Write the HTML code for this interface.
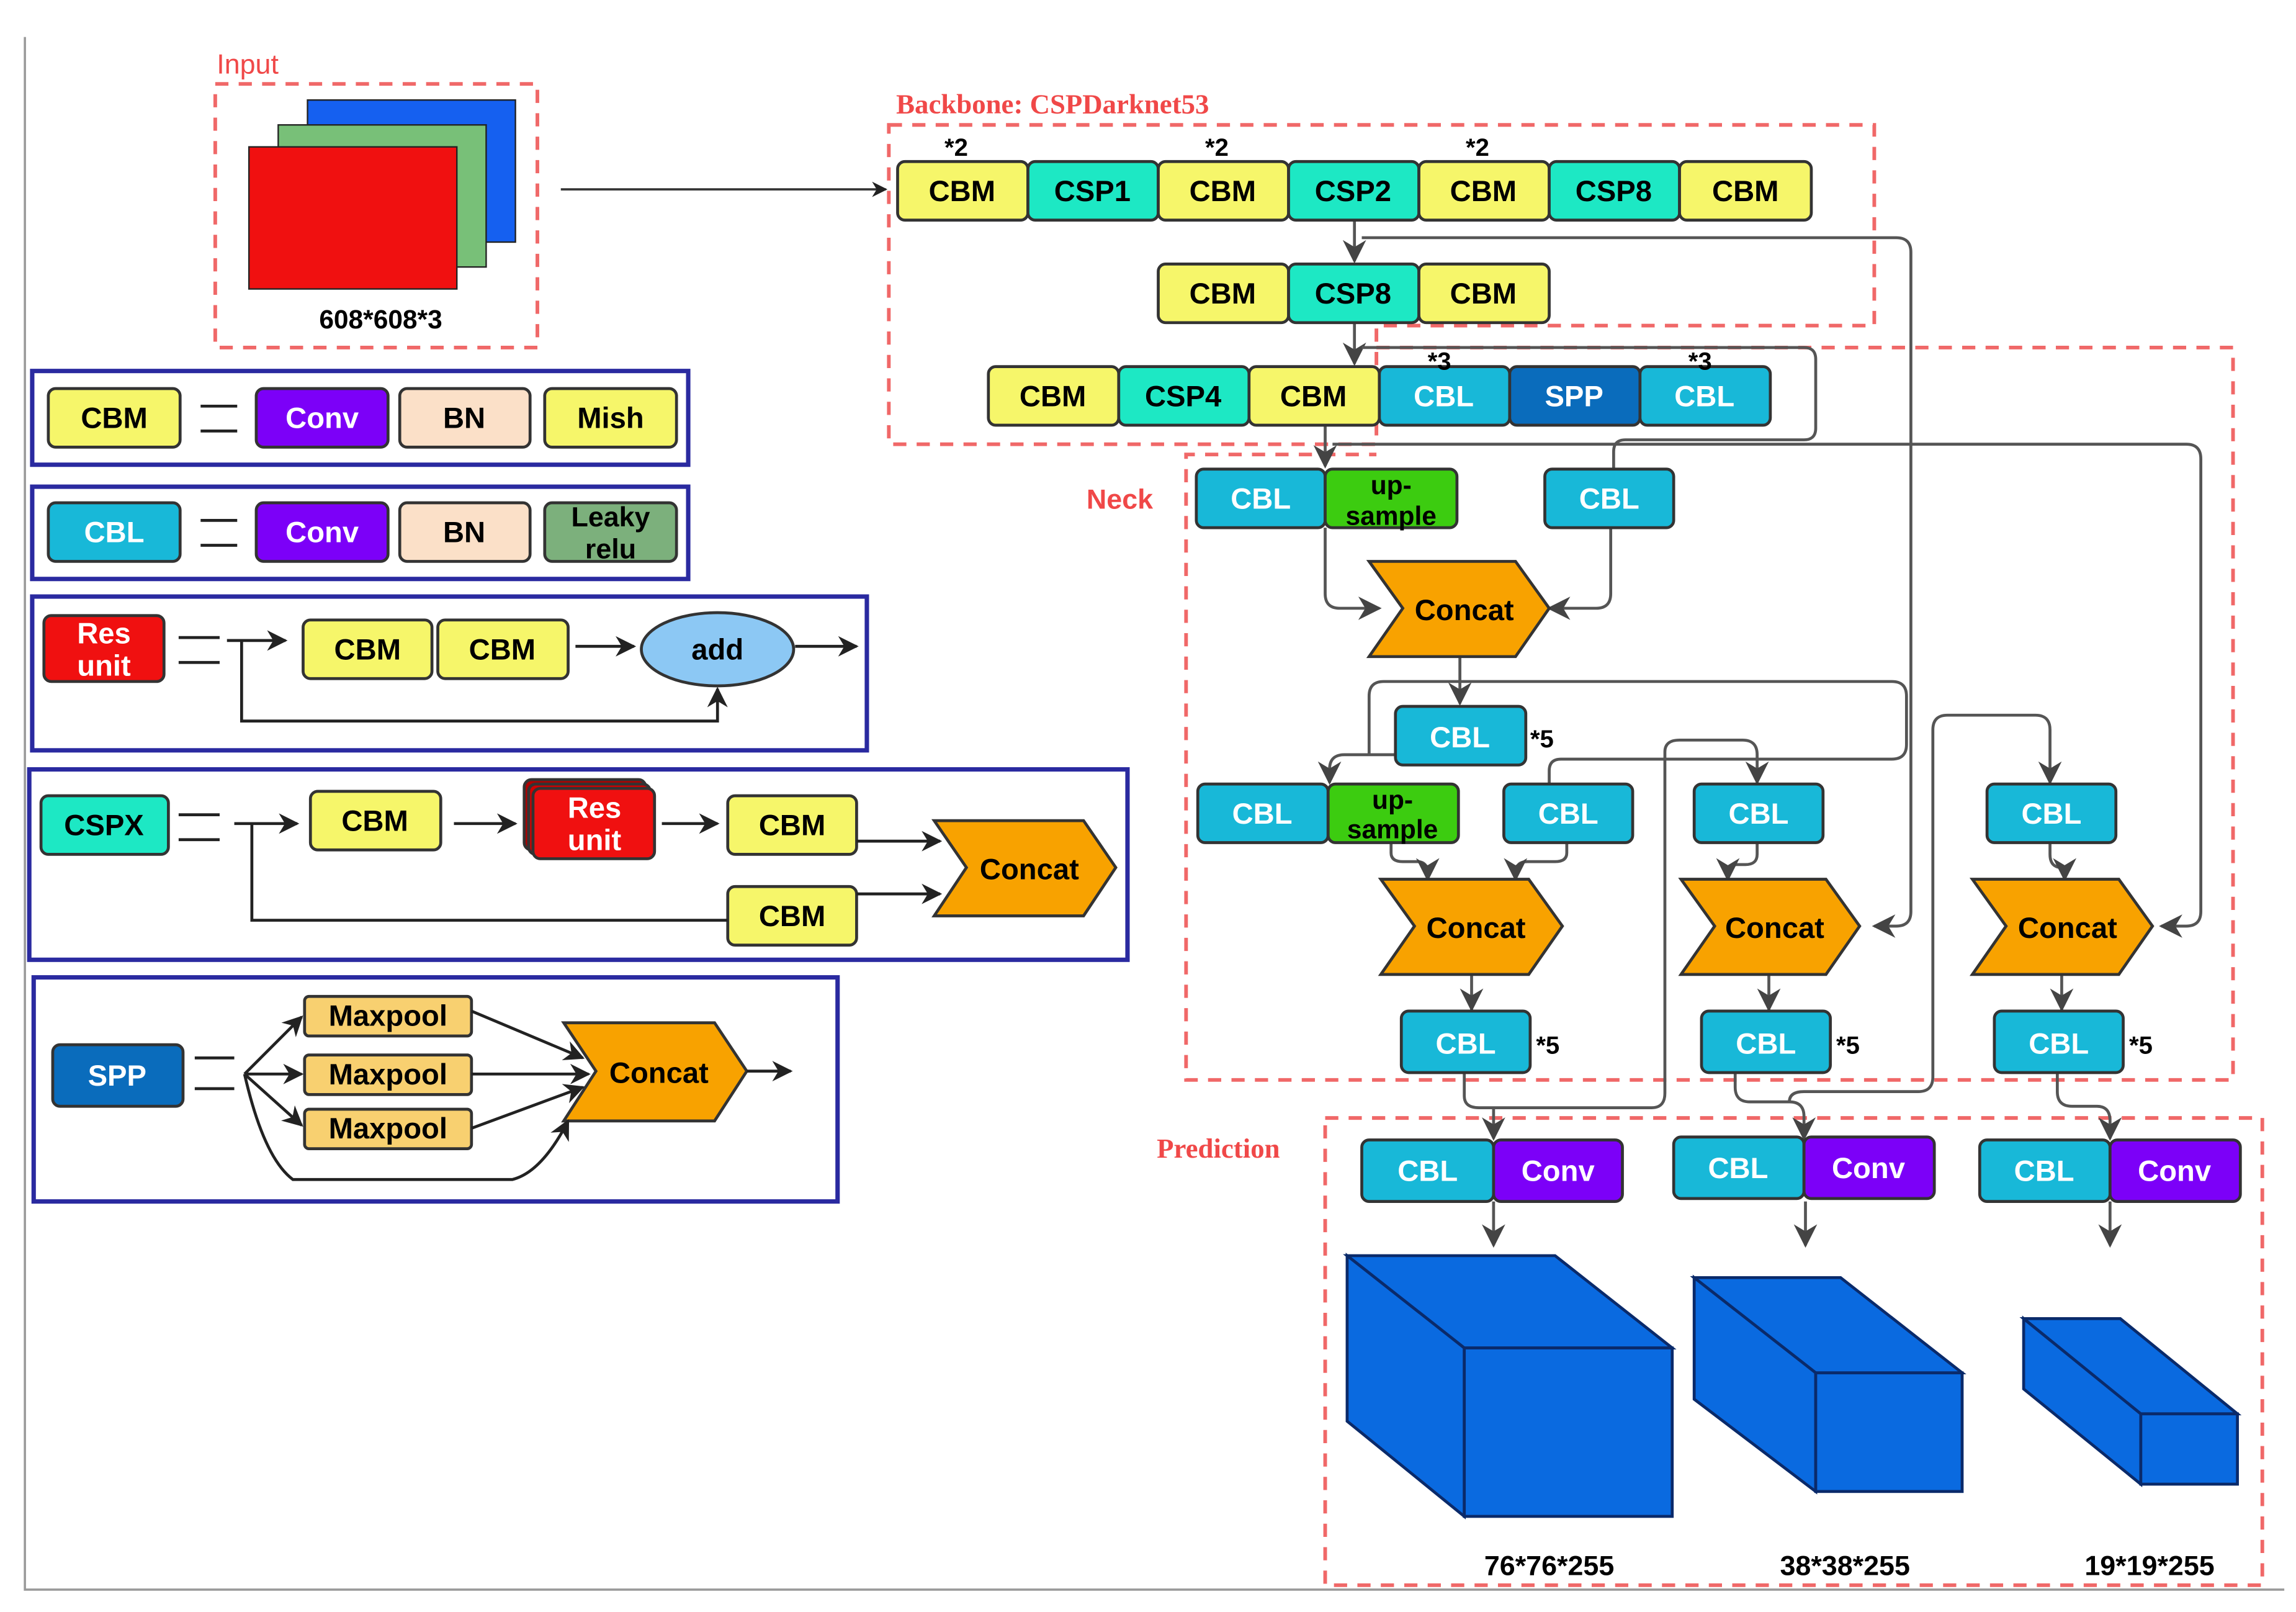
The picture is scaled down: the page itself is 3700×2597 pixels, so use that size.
<!DOCTYPE html>
<html><head><meta charset="utf-8"><style>
html,body{margin:0;padding:0;background:#fff;}
svg{display:block;}
text{font-family:"Liberation Sans",sans-serif;font-weight:bold;}
</style></head><body>
<svg width="3700" height="2597" viewBox="0 0 1568 1100" xmlns="http://www.w3.org/2000/svg">
<defs>
<marker id="a" viewBox="0 0 10 10" refX="9" refY="5" markerWidth="7" markerHeight="7" orient="auto"><path d="M0,0 L10,5 L0,10 L3,5 z" fill="#222"/></marker>
<marker id="g" viewBox="0 0 10 10" refX="9" refY="5" markerWidth="8" markerHeight="8" orient="auto"><path d="M0,0 L10,5 L0,10 L3,5 z" fill="#444"/></marker>
</defs>
<rect width="1568" height="1100" fill="#fff"/>
<path d="M17,25 V1085 H1560" stroke="#999" stroke-width="1.5" fill="none"/>

<!-- dashed regions -->
<g stroke="#f06868" stroke-width="2.5" stroke-dasharray="9,7" fill="none">
<rect x="147" y="57" width="220" height="180"/>
<path d="M607,85 H1280 V222 H940 V303 H607 Z"/>
<path d="M940,237 H1525 V737 H810 V310 H940"/>
<rect x="905" y="763" width="640" height="319"/>
</g>
<g fill="#f04848" font-size="19">
<text x="148" y="50" style="font-weight:normal">Input</text>
<text x="742" y="347">Neck</text>
<text x="612" y="77" style="font-family:'Liberation Serif',serif">Backbone: CSPDarknet53</text>
<text x="790" y="790" style="font-family:'Liberation Serif',serif">Prediction</text>
</g>

<!-- input -->
<rect x="210" y="68" width="142" height="97" fill="#1560f0" stroke="#222"/>
<rect x="190" y="85" width="142" height="97" fill="#78c078" stroke="#222"/>
<rect x="170" y="100" width="142" height="97" fill="#f01010" stroke="#222"/>
<text x="260" y="224" font-size="18" text-anchor="middle">608*608*3</text>
<line x1="383" y1="129" x2="605" y2="129" stroke="#333" stroke-width="1.5" marker-end="url(#a)"/>

<!-- connectors (neck) -->
<g stroke="#555" stroke-width="2" fill="none">
<line x1="925" y1="150" x2="925" y2="178" marker-end="url(#g)"/>
<path d="M930,162 H1295 Q1305,162 1305,172 V622 Q1305,632 1295,632 H1280" marker-end="url(#g)"/>
<line x1="925" y1="220" x2="925" y2="248" marker-end="url(#g)"/>
<path d="M930,237 H1232 Q1240,237 1240,245 V292 Q1240,300 1232,300 H1110 Q1102,300 1102,308 V320"/>
<line x1="905" y1="290" x2="905" y2="318" marker-end="url(#g)"/>
<path d="M910,303 H1493 Q1503,303 1503,313 V622 Q1503,632 1493,632 H1476" marker-end="url(#g)"/>
<path d="M905,360 V405 Q905,415 915,415 H942" marker-end="url(#g)"/>
<path d="M1100,360 V405 Q1100,415 1090,415 H1058" marker-end="url(#g)"/>
<line x1="997" y1="448" x2="997" y2="480" marker-end="url(#g)"/>
<path d="M935,515 V475 Q935,465 945,465 H1292 Q1302,465 1302,475 V508 Q1302,518 1292,518 H1066 Q1058,518 1058,526 V535"/>
<path d="M953,515 H918 Q908,515 908,525 V534" marker-end="url(#g)"/>
<path d="M950,575 V582 Q950,588 958,588 H968 Q975,588 975,596 V600" marker-end="url(#g)"/>
<path d="M1070,575 V582 Q1070,588 1062,588 H1043 Q1035,588 1035,596 V600" marker-end="url(#g)"/>
<path d="M1200,575 V583 Q1200,590 1192,590 H1186 Q1180,590 1180,598 V600" marker-end="url(#g)"/>
<path d="M1400,575 V583 Q1400,592 1408,592 H1410 V600" marker-end="url(#g)"/>
<line x1="1005" y1="665" x2="1005" y2="689" marker-end="url(#g)"/>
<line x1="1208" y1="665" x2="1208" y2="689" marker-end="url(#g)"/>
<line x1="1408" y1="665" x2="1408" y2="689" marker-end="url(#g)"/>
<path d="M1000,732 V748 Q1000,756 1010,756 H1128 Q1137,756 1137,746 V513 Q1137,505 1147,505 H1190 Q1200,505 1200,515 V534" marker-end="url(#g)"/>
<line x1="1020" y1="756" x2="1020" y2="777" marker-end="url(#g)"/>
<path d="M1185,732 V742 Q1185,752 1195,752 H1222 Q1232,752 1232,762 V777" marker-end="url(#g)"/>
<path d="M1222,752 Q1222,745 1232,745 H1310 Q1320,745 1320,735 V498 Q1320,488 1330,488 H1390 Q1400,488 1400,498 V534" marker-end="url(#g)"/>
<path d="M1405,732 V745 Q1405,755 1415,755 H1432 Q1441,755 1441,765 V777" marker-end="url(#g)"/>
<line x1="1020" y1="820" x2="1020" y2="850" marker-end="url(#g)"/>
<line x1="1233" y1="820" x2="1233" y2="850" marker-end="url(#g)"/>
<line x1="1441" y1="820" x2="1441" y2="850" marker-end="url(#g)"/>
</g>

<!-- boxes -->
<g stroke="#333" stroke-width="2">
<!-- backbone row1 -->
<rect x="613" y="110" width="89" height="40" rx="5" fill="#f6f66a"/>
<rect x="702" y="110" width="89" height="40" rx="5" fill="#1de8c4"/>
<rect x="791" y="110" width="89" height="40" rx="5" fill="#f6f66a"/>
<rect x="880" y="110" width="89" height="40" rx="5" fill="#1de8c4"/>
<rect x="969" y="110" width="89" height="40" rx="5" fill="#f6f66a"/>
<rect x="1058" y="110" width="89" height="40" rx="5" fill="#1de8c4"/>
<rect x="1147" y="110" width="90" height="40" rx="5" fill="#f6f66a"/>
<rect x="791" y="180" width="89" height="40" rx="5" fill="#f6f66a"/>
<rect x="880" y="180" width="89" height="40" rx="5" fill="#1de8c4"/>
<rect x="969" y="180" width="89" height="40" rx="5" fill="#f6f66a"/>
<rect x="675" y="250" width="89" height="40" rx="5" fill="#f6f66a"/>
<rect x="764" y="250" width="89" height="40" rx="5" fill="#1de8c4"/>
<rect x="853" y="250" width="89" height="40" rx="5" fill="#f6f66a"/>
<rect x="942" y="250" width="89" height="40" rx="5" fill="#18b8d8"/>
<rect x="1031" y="250" width="89" height="40" rx="5" fill="#0a6cbc"/>
<rect x="1120" y="250" width="89" height="40" rx="5" fill="#18b8d8"/>
<!-- neck -->
<rect x="817" y="320" width="88" height="40" rx="5" fill="#18b8d8"/>
<rect x="905" y="320" width="90" height="40" rx="5" fill="#3ccc10"/>
<rect x="1055" y="320" width="88" height="40" rx="5" fill="#18b8d8"/>
<polygon points="935,383 1035,383 1058,415 1035,448 935,448 958,415" fill="#f8a200"/>
<rect x="953" y="482" width="89" height="40" rx="5" fill="#18b8d8"/>
<rect x="818" y="535" width="89" height="40" rx="5" fill="#18b8d8"/>
<rect x="907" y="535" width="89" height="40" rx="5" fill="#3ccc10"/>
<rect x="1027" y="535" width="88" height="40" rx="5" fill="#18b8d8"/>
<rect x="1157" y="535" width="88" height="40" rx="5" fill="#18b8d8"/>
<rect x="1357" y="535" width="88" height="40" rx="5" fill="#18b8d8"/>
<polygon points="943,600 1044,600 1067,632 1044,665 943,665 966,632" fill="#f8a200"/>
<polygon points="1148,600 1247,600 1270,632 1247,665 1148,665 1171,632" fill="#f8a200"/>
<polygon points="1347,600 1447,600 1470,632 1447,665 1347,665 1370,632" fill="#f8a200"/>
<rect x="957" y="690" width="88" height="42" rx="5" fill="#18b8d8"/>
<rect x="1162" y="690" width="88" height="42" rx="5" fill="#18b8d8"/>
<rect x="1362" y="690" width="88" height="42" rx="5" fill="#18b8d8"/>
<!-- prediction -->
<rect x="930" y="778" width="90" height="42" rx="5" fill="#18b8d8"/>
<rect x="1020" y="778" width="88" height="42" rx="5" fill="#7c00f8"/>
<rect x="1143" y="776" width="89" height="42" rx="5" fill="#18b8d8"/>
<rect x="1232" y="776" width="89" height="42" rx="5" fill="#7c00f8"/>
<rect x="1352" y="778" width="89" height="42" rx="5" fill="#18b8d8"/>
<rect x="1441" y="778" width="89" height="42" rx="5" fill="#7c00f8"/>
</g>

<!-- cubes -->
<g stroke="#0a2a6a" stroke-width="2" fill="#0a6ae0">
<polygon points="920,857 1062,857 1142,920 1000,920"/>
<polygon points="920,857 1000,920 1000,1035 920,970"/>
<rect x="1000" y="920" width="142" height="115"/>
<polygon points="1157,872 1257,872 1340,937 1240,937"/>
<polygon points="1157,872 1240,937 1240,1018 1157,955"/>
<rect x="1240" y="937" width="100" height="81"/>
<polygon points="1382,900 1448,900 1528,965 1462,965"/>
<polygon points="1382,900 1462,965 1462,1013 1382,948"/>
<rect x="1462" y="965" width="66" height="48"/>
</g>
<g font-size="19" text-anchor="middle">
<text x="1058" y="1075">76*76*255</text>
<text x="1260" y="1075">38*38*255</text>
<text x="1468" y="1075">19*19*255</text>
</g>

<!-- texts main -->
<g font-size="20" text-anchor="middle">
<text x="657" y="137">CBM</text><text x="746" y="137">CSP1</text><text x="835" y="137">CBM</text><text x="924" y="137">CSP2</text><text x="1013" y="137">CBM</text><text x="1102" y="137">CSP8</text><text x="1192" y="137">CBM</text>
<text x="835" y="207">CBM</text><text x="924" y="207">CSP8</text><text x="1013" y="207">CBM</text>
<text x="719" y="277">CBM</text><text x="808" y="277">CSP4</text><text x="897" y="277">CBM</text>
<g fill="#fff"><text x="986" y="277">CBL</text><text x="1075" y="277">SPP</text><text x="1164" y="277">CBL</text>
<text x="861" y="347">CBL</text><text x="1099" y="347">CBL</text><text x="997" y="510">CBL</text>
<text x="862" y="562">CBL</text><text x="1071" y="562">CBL</text><text x="1201" y="562">CBL</text><text x="1401" y="562">CBL</text>
<text x="1001" y="719">CBL</text><text x="1206" y="719">CBL</text><text x="1406" y="719">CBL</text>
<text x="975" y="806">CBL</text><text x="1064" y="806">Conv</text><text x="1187" y="804">CBL</text><text x="1276" y="804">Conv</text><text x="1396" y="806">CBL</text><text x="1485" y="806">Conv</text></g>
<text x="950" y="337" font-size="18">up-</text><text x="950" y="358" font-size="18">sample</text>
<text x="951" y="552" font-size="18">up-</text><text x="951" y="572" font-size="18">sample</text>
<text x="1000" y="423" font-weight="normal">Concat</text>
<text x="1008" y="640" font-weight="normal">Concat</text>
<text x="1212" y="640" font-weight="normal">Concat</text>
<text x="1412" y="640" font-weight="normal">Concat</text>
</g>
<g font-size="17">
<text x="645" y="106">*2</text><text x="823" y="106">*2</text><text x="1001" y="106">*2</text>
<text x="975" y="252">*3</text><text x="1153" y="252">*3</text>
<text x="1045" y="510">*5</text><text x="1049" y="719">*5</text><text x="1254" y="719">*5</text><text x="1454" y="719">*5</text>
</g>

<!-- legend -->
<g stroke="#2a2aa0" stroke-width="3" fill="none">
<rect x="22" y="253" width="448" height="64"/>
<rect x="22" y="332" width="448" height="63"/>
<rect x="22" y="407" width="570" height="105"/>
<rect x="20" y="525" width="750" height="130"/>
<rect x="23" y="667" width="549" height="153"/>
</g>
<g stroke="#333" stroke-width="2">
<rect x="33" y="265" width="90" height="40" rx="5" fill="#f6f66a"/>
<rect x="175" y="265" width="90" height="40" rx="5" fill="#7c00f8"/>
<rect x="273" y="265" width="89" height="40" rx="5" fill="#fbe0c8"/>
<rect x="372" y="265" width="90" height="40" rx="5" fill="#f6f66a"/>
<rect x="33" y="343" width="90" height="40" rx="5" fill="#18b8d8"/>
<rect x="175" y="343" width="90" height="40" rx="5" fill="#7c00f8"/>
<rect x="273" y="343" width="89" height="40" rx="5" fill="#fbe0c8"/>
<rect x="372" y="343" width="90" height="40" rx="5" fill="#7cb07c"/>
<rect x="30" y="420" width="82" height="45" rx="5" fill="#f01010"/>
<rect x="207" y="423" width="88" height="40" rx="5" fill="#f6f66a"/>
<rect x="299" y="423" width="89" height="40" rx="5" fill="#f6f66a"/>
<ellipse cx="490" cy="443" rx="52" ry="25" fill="#8cc8f4"/>
<rect x="28" y="543" width="87" height="40" rx="5" fill="#1de8c4"/>
<rect x="212" y="540" width="89" height="40" rx="5" fill="#f6f66a"/>
<rect x="358" y="532" width="83" height="48" rx="5" fill="#b00000"/>
<rect x="361" y="535" width="83" height="48" rx="5" fill="#d00000"/>
<rect x="364" y="538" width="83" height="48" rx="5" fill="#f01010"/>
<rect x="497" y="543" width="88" height="40" rx="5" fill="#f6f66a"/>
<rect x="497" y="605" width="88" height="40" rx="5" fill="#f6f66a"/>
<polygon points="638,560 740,560 762,592 740,625 638,625 660,592" fill="#f8a200"/>
<rect x="36" y="713" width="89" height="42" rx="5" fill="#0a6cbc"/>
<rect x="208" y="680" width="114" height="27" rx="3" fill="#f8d070"/>
<rect x="208" y="720" width="114" height="27" rx="3" fill="#f8d070"/>
<rect x="208" y="757" width="114" height="27" rx="3" fill="#f8d070"/>
<polygon points="385,698 488,698 510,731 488,765 385,765 407,731" fill="#f8a200"/>
</g>
<g stroke="#222" stroke-width="2" fill="none">
<path d="M137,277 H162 M137,294 H162"/>
<path d="M137,355 H162 M137,372 H162"/>
<path d="M122,435 H150 M122,452 H150"/>
<path d="M122,556 H150 M122,573 H150"/>
<path d="M133,722 H160 M133,743 H160"/>
<path d="M155,437 H195" marker-end="url(#a)"/>
<path d="M165,437 V492 H490 V470" marker-end="url(#a)"/>
<path d="M393,441 H433" marker-end="url(#a)"/>
<path d="M543,441 H585" marker-end="url(#a)"/>
<path d="M160,562 H203" marker-end="url(#a)"/>
<path d="M172,562 V628 H497"/>
<path d="M310,562 H352" marker-end="url(#a)"/>
<path d="M452,562 H490" marker-end="url(#a)"/>
<path d="M585,574 H642" marker-end="url(#a)"/>
<path d="M585,610 H642" marker-end="url(#a)"/>
<path d="M167,733 L206,694" marker-end="url(#a)"/>
<path d="M167,733 H206" marker-end="url(#a)"/>
<path d="M167,733 L206,768" marker-end="url(#a)"/>
<path d="M167,733 Q180,790 200,805 H350 Q370,800 388,765" marker-end="url(#a)"/>
<path d="M322,690 L398,722" marker-end="url(#a)"/>
<path d="M322,733 H402" marker-end="url(#a)"/>
<path d="M322,770 L398,742" marker-end="url(#a)"/>
<path d="M510,731 H540" marker-end="url(#a)"/>
</g>
<g font-size="20" text-anchor="middle">
<text x="78" y="292">CBM</text><text x="220" y="292" fill="#fff">Conv</text><text x="317" y="292" font-weight="normal">BN</text><text x="417" y="292">Mish</text>
<text x="78" y="370" fill="#fff">CBL</text><text x="220" y="370" fill="#fff">Conv</text><text x="317" y="370" font-weight="normal">BN</text>
<text x="417" y="359" font-size="19">Leaky</text><text x="417" y="381" font-size="19">relu</text>
<text x="71" y="439" fill="#fff">Res</text><text x="71" y="461" fill="#fff">unit</text>
<text x="251" y="450">CBM</text><text x="343" y="450">CBM</text><text x="490" y="450" font-weight="normal">add</text>
<text x="71" y="570">CSPX</text><text x="256" y="567">CBM</text>
<text x="406" y="558" fill="#fff">Res</text><text x="406" y="580" fill="#fff">unit</text>
<text x="541" y="570">CBM</text><text x="541" y="632">CBM</text>
<text x="703" y="600" font-weight="normal">Concat</text>
<text x="80" y="741" fill="#fff">SPP</text>
<text x="265" y="700">Maxpool</text><text x="265" y="740">Maxpool</text><text x="265" y="777">Maxpool</text>
<text x="450" y="739" font-weight="normal">Concat</text>
</g>
</svg>
</body></html>
